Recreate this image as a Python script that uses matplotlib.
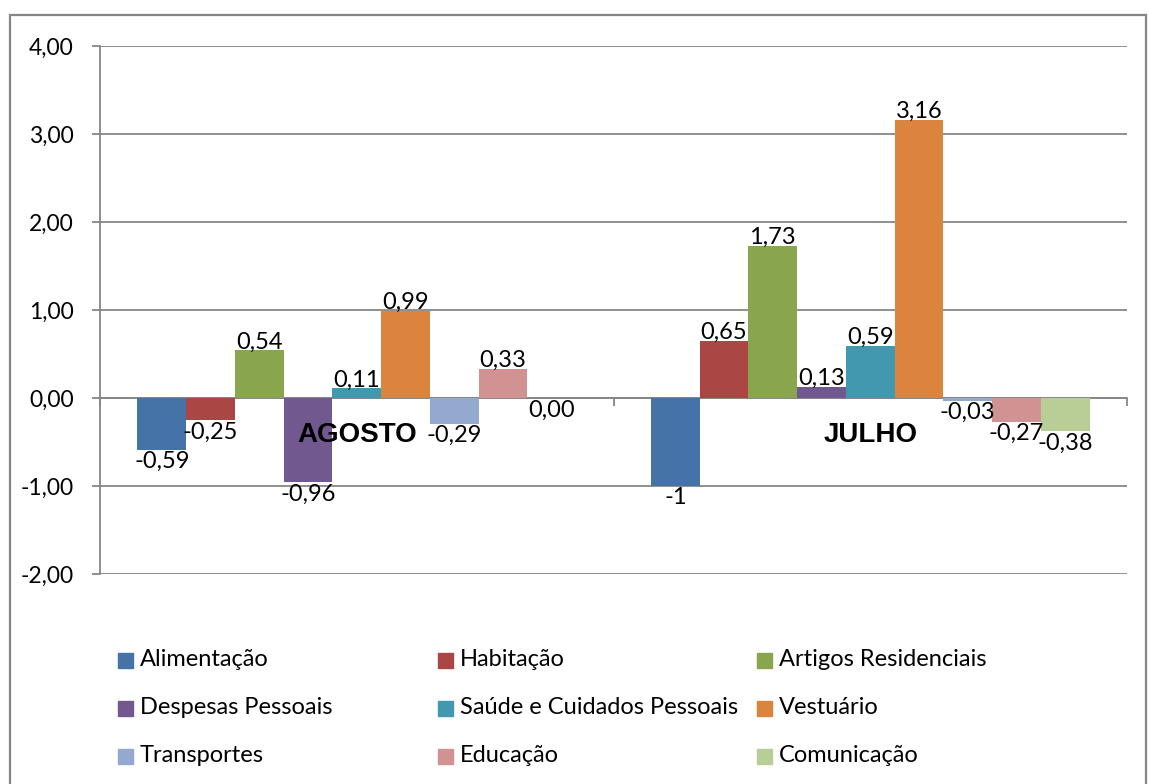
import matplotlib
matplotlib.use("Agg")
import matplotlib.pyplot as plt
from matplotlib.patches import Rectangle
import numpy as np

# ---- data ----
categories = ["AGOSTO", "JULHO"]
series_names = ["Alimentação", "Habitação", "Artigos Residenciais",
                "Despesas Pessoais", "Saúde e Cuidados Pessoais", "Vestuário",
                "Transportes", "Educação", "Comunicação"]
agosto = [-0.59, -0.25, 0.54, -0.96, 0.11, 0.99, -0.29, 0.33, 0.00]
julho = [-1.00, 0.65, 1.73, 0.13, 0.59, 3.16, -0.03, -0.27, -0.38]
agosto_labels = ["-0,59", "-0,25", "0,54", "-0,96", "0,11", "0,99", "-0,29", "0,33", "0,00"]
julho_labels = ["-1", "0,65", "1,73", "0,13", "0,59", "3,16", "-0,03", "-0,27", "-0,38"]
y_ticks = [-2, -1, 0, 1, 2, 3, 4]
y_tick_labels = ["-2,00", "-1,00", "0,00", "1,00", "2,00", "3,00", "4,00"]

colors = ["#4572A7", "#AA4643", "#89A54E", "#71588F", "#4198AF",
          "#DB843D", "#93A9CF", "#D19392", "#B9CD96"]

plt.rcParams['font.family'] = ['Lato', 'DejaVu Sans']
FS = 17
GRID = "#868686"

W, H = 1149, 784
fig = plt.figure(figsize=(W / 100, H / 100), dpi=100)
ax = fig.add_axes([100 / W, 1 - 574 / H, 1027 / W, 528 / H])

values = np.array([agosto, julho])          # shape (2, 9)
labels = [agosto_labels, julho_labels]
n = len(series_names)
bw = 0.0949
xc = np.arange(len(categories))

for i in range(n):
    xs = xc + (i - (n - 1) / 2) * bw
    vals = values[:, i]
    ax.bar(xs, vals, width=bw, color=colors[i], zorder=2, linewidth=0)
    for j, (x, v) in enumerate(zip(xs, vals)):
        if v > 0:
            ax.annotate(labels[j][i], (x, v), xytext=(0, -1.5), textcoords="offset points",
                        ha="center", va="bottom", fontsize=FS, zorder=4)
        else:
            ax.annotate(labels[j][i], (x, v), xytext=(0, -1), textcoords="offset points",
                        ha="center", va="top", fontsize=FS, zorder=4)

ax.set_xlim(-0.5, 1.5)
ax.set_ylim(-2, 4)
ax.set_yticks(y_ticks, y_tick_labels)
ax.tick_params(axis="y", direction="out", length=6, width=1.3, color=GRID,
               pad=13, labelsize=16.5)
ax.yaxis.grid(True, color=GRID, linewidth=1.3, zorder=0.5)
ax.set_axisbelow(True)

# category axis at zero
ax.spines["bottom"].set_position(("data", 0))
ax.spines["bottom"].set_color(GRID)
ax.spines["bottom"].set_linewidth(1.3)
ax.spines["bottom"].set_zorder(0.6)
ax.spines["left"].set_color(GRID)
ax.spines["left"].set_linewidth(1.3)
ax.spines["top"].set_visible(False)
ax.spines["right"].set_visible(False)
ax.set_xticks([-0.5, 0.5, 1.5], ["", "", ""])
ax.tick_params(axis="x", which="major", direction="out", length=6, width=1.3, color=GRID)

# category labels drawn above the bars
for x, cat in zip(xc, categories):
    ax.annotate(cat, (x, 0), xytext=(0, -27), textcoords="offset points",
                ha="center", va="center", fontsize=20, fontweight="bold",
                family=["Liberation Sans", "DejaVu Sans"], zorder=5)

# legend (3 columns, row-major)
for i, name in enumerate(series_names):
    r, c = divmod(i, 3)
    x0 = 118 + c * 319.5
    y0 = 660 + r * 48
    fig.patches.append(Rectangle((x0 / W, 1 - (y0 + 7.5) / H), 15 / W, 15 / H,
                                 transform=fig.transFigure, color=colors[i]))
    fig.text((x0 + 22) / W, 1 - y0 / H, name, fontsize=FS, va="center", ha="left")

# outer border
fig.patches.append(Rectangle((10 / W, 1 - 800 / H), 1136 / W, 785 / H,
                             transform=fig.transFigure, fill=False,
                             edgecolor=GRID, linewidth=1.6))

fig.savefig("out.png", dpi=100)
